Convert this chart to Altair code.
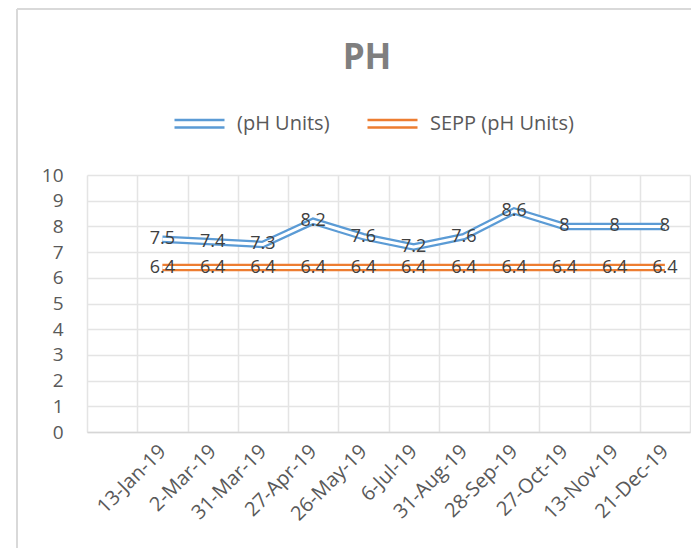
import altair as alt
import pandas as pd

# ---- data ----
dates = ["13-Jan-19", "2-Mar-19", "31-Mar-19", "27-Apr-19", "26-May-19", "6-Jul-19",
         "31-Aug-19", "28-Sep-19", "27-Oct-19", "13-Nov-19", "21-Dec-19"]
ph_values = [7.5, 7.4, 7.3, 8.2, 7.6, 7.2, 7.6, 8.6, 8, 8, 8]
sepp_values = [6.4, 6.4, 6.4, 6.4, 6.4, 6.4, 6.4, 6.4, 6.4, 6.4, 6.4]
series_names = ["(pH Units)", "SEPP (pH Units)"]
series_colors = ["#5b9bd5", "#ed7d31"]
x_domain = [" "] + dates          # first category band is empty in the reference
y_ticks = [0, 1, 2, 3, 4, 5, 6, 7, 8, 9, 10]
chart_title = "PH"

FONT = "Open Sans"

rows = []
for name, vals in zip(series_names, [ph_values, sepp_values]):
    for d, v in zip(dates, vals):
        rows.append({"date": d, "series": name, "value": v, "label": f"{v:g}"})
df = pd.DataFrame(rows)

x_enc = alt.X(
    "date:N",
    sort=None,
    scale=alt.Scale(type="band", domain=x_domain, paddingInner=0, paddingOuter=0),
    axis=alt.Axis(
        title=None, labelAngle=-45, labelAlign="right", labelBaseline="middle",
        labelPadding=16, labelFontSize=20, labelFont=FONT, labelColor="#595959",
        labelOverlap=False, tickBand="extent", ticks=False, grid=True,
        gridColor="#e4e4e4", gridWidth=1.5, domainColor="#d6d6d6", domainWidth=1.5,
    ),
)
y_enc = alt.Y(
    "value:Q",
    scale=alt.Scale(domain=[0, 10], nice=False, zero=True),
    axis=alt.Axis(
        title=None, values=y_ticks, ticks=False, tickSize=0, domain=False,
        labelPadding=24, labelFontSize=19, labelFont=FONT, labelColor="#595959",
        grid=True, gridColor="#e4e4e4", gridWidth=1.5,
    ),
)

base = alt.Chart(df)

outer = base.mark_line(strokeWidth=7.5, strokeCap="butt", strokeJoin="miter").encode(
    x=x_enc, y=y_enc,
    color=alt.Color(
        "series:N",
        scale=alt.Scale(domain=series_names, range=series_colors),
        legend=alt.Legend(
            title=None, orient="none", direction="horizontal",
            legendX=86, legendY=-78, padding=0,
            symbolType="M-1,-0.15L1,-0.15M-1,0.15L1,0.15",
            symbolSize=2500, symbolStrokeWidth=2.5, symbolFillColor="transparent",
            labelFontSize=20, labelFont=FONT, labelColor="#595959",
            labelOffset=11, columnPadding=32,
        ),
    ),
)

inner = base.mark_line(strokeWidth=3, color="white", strokeCap="butt", strokeJoin="miter").encode(
    x=x_enc, y=y_enc, detail="series:N",
)

labels = base.mark_text(fontSize=18, font=FONT, color="#404040", align="center", baseline="middle").encode(
    x=x_enc, y=y_enc, text="label:N",
)

title_df = pd.DataFrame({"t": [chart_title]})
title = alt.Chart(title_df).mark_text(
    fontSize=35, font=FONT, fontWeight="bold", color="#7f7f7f", align="center", baseline="alphabetic"
).encode(text="t:N", x=alt.value(280), y=alt.value(-106))

border_df = pd.DataFrame({"b": [1]})
border_v = alt.Chart(border_df).mark_rule(color="#d9d9d9", strokeWidth=2).encode(
    x=alt.value(-70), y=alt.value(-166), y2=alt.value(400)
)
border_h = alt.Chart(border_df).mark_rule(color="#d9d9d9", strokeWidth=2).encode(
    x=alt.value(-70), x2=alt.value(620), y=alt.value(-166)
)

chart = alt.layer(border_v, border_h, title, outer, inner, labels).properties(
    width=603, height=257,
    autosize=alt.AutoSizeParams(type="none"),
    padding={"left": 79, "top": 167, "right": 1, "bottom": 116},
    background="white",
).configure_view(stroke=None)

chart.save("out.html", embed_options={"renderer": "svg", "actions": False})
